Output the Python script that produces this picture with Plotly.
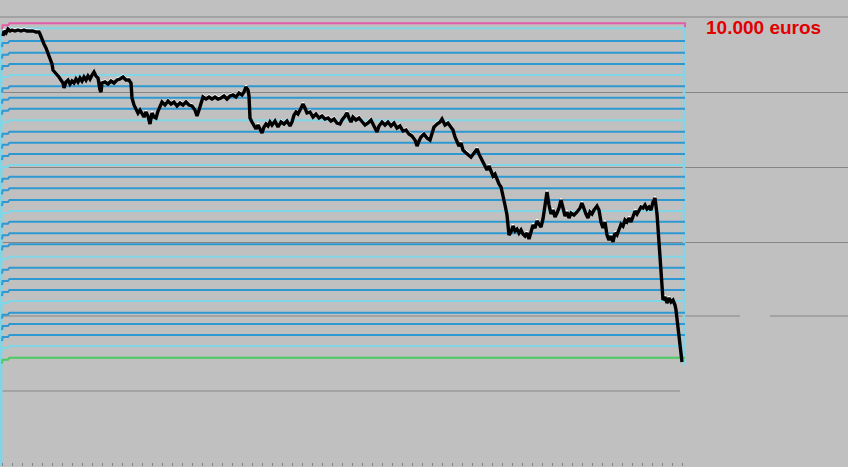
import plotly.graph_objects as go

# ---- data (x = session index, y = account value in chart units) ----
days = [1, 2, 4, 6, 8, 10, 13, 16, 19, 22, 25, 28, 31, 34, 37, 38, 40, 42, 44, 46, 48, 50, 51, 53, 55, 57, 59, 61, 62, 64,
        66, 68, 70, 72, 74, 76, 78, 80, 82, 84, 86, 88, 90, 92, 94, 96, 98, 99, 100, 103, 106, 109, 112, 115, 118, 121, 124, 127, 129, 130,
        132, 134, 136, 138, 140, 142, 144, 146, 148, 150, 152, 154, 156, 158, 160, 163, 166, 169, 172, 175, 178, 181, 184, 187, 190, 193, 195, 197, 199, 201,
        204, 207, 210, 213, 216, 219, 222, 225, 228, 231, 234, 237, 240, 242, 244, 246, 247, 248, 250, 252, 254, 256, 258, 260, 262, 264, 266, 268, 270, 273,
        276, 279, 282, 285, 288, 290, 292, 294, 296, 298, 301, 303, 305, 308, 311, 314, 317, 320, 323, 326, 329, 332, 335, 338, 340, 343, 345, 347, 349, 351,
        354, 357, 360, 363, 366, 369, 372, 375, 377, 380, 383, 386, 389, 392, 395, 398, 401, 404, 407, 410, 413, 415, 417, 419, 422, 425, 428, 430, 432, 435,
        438, 440, 443, 446, 449, 451, 453, 455, 457, 459, 461, 463, 466, 469, 472, 475, 477, 479, 481, 483, 485, 487, 489, 491, 493, 495, 497, 499, 501, 503,
        505, 506, 507, 509, 511, 513, 515, 517, 519, 521, 523, 525, 527, 529, 531, 533, 535, 537, 539, 541, 543, 545, 547, 549, 551, 553, 555, 557, 559, 561,
        563, 565, 567, 569, 572, 575, 578, 580, 582, 584, 586, 588, 590, 592, 595, 597, 599, 601, 603, 605, 607, 609, 611, 613, 615, 617, 619, 621, 623, 625,
        627, 629, 631, 633, 635, 637, 639, 641, 643, 645, 647, 649, 651, 653, 654, 655, 656, 657, 658, 659, 660, 661, 663, 665, 667, 669, 671, 673, 674, 675,
        676, 677, 678, 679, 680]
equity = [430, 435, 433, 437, 435, 436, 435, 436, 435, 436, 435, 435, 435, 434, 434, 432, 426, 422, 418, 413, 409, 402, 396, 394, 392, 389, 386, 383, 378, 384,
          386, 382, 385, 383, 387, 384, 388, 385, 389, 386, 390, 387, 391, 394, 390, 388, 376, 374, 383, 384, 382, 385, 383, 386, 387, 389, 386, 386, 383, 368,
          361, 357, 353, 356, 352, 349, 354, 350, 342, 353, 349, 348, 355, 360, 364, 361, 365, 362, 364, 360, 363, 361, 364, 361, 360, 356, 350, 356, 363, 369,
          367, 369, 367, 369, 367, 368, 370, 367, 370, 371, 369, 373, 371, 374, 379, 376, 370, 348, 344, 340, 337, 341, 337, 333, 339, 342, 340, 344, 341, 345,
          339, 344, 342, 345, 340, 344, 351, 354, 352, 356, 362, 358, 353, 354, 349, 352, 348, 350, 347, 348, 345, 347, 343, 342, 346, 350, 353, 348, 344, 349,
          346, 348, 344, 341, 343, 346, 340, 334, 340, 344, 341, 344, 340, 343, 338, 340, 335, 336, 332, 330, 326, 320, 325, 329, 332, 328, 326, 332, 339, 342,
          344, 347, 341, 343, 339, 336, 329, 325, 320, 323, 316, 314, 312, 309, 313, 317, 312, 308, 303, 299, 296, 300, 294, 290, 292, 286, 282, 279, 271, 261,
          251, 241, 231, 234, 240, 235, 237, 233, 236, 232, 230, 233, 227, 234, 241, 238, 245, 242, 239, 247, 261, 274, 261, 252, 256, 249, 253, 258, 266, 259,
          250, 254, 248, 253, 251, 254, 258, 263, 257, 252, 248, 254, 252, 256, 260, 256, 244, 238, 244, 231, 226, 230, 224, 233, 231, 238, 242, 240, 246, 244,
          248, 244, 250, 255, 252, 256, 259, 258, 261, 257, 259, 256, 264, 268, 261, 252, 238, 221, 206, 191, 178, 166, 169, 163, 168, 164, 166, 161, 156, 148,
          138, 131, 121, 111, 104]

level_values = [442.7, 437.7, 425.0, 413.3, 402.0, 391.0, 379.7, 368.3, 357.3, 345.7, 334.3, 323.3, 312.0, 301.0, 289.3, 277.7,
                266.0, 255.0, 244.3, 232.7, 221.7, 209.3, 198.3, 187.0, 176.0, 165.0, 153.3, 142.0, 131.0, 120.0, 108.3]
level_kinds = ["top", "light", "dark", "dark", "dark", "light", "dark", "dark", "dark", "light", "dark", "dark", "dark", "light",
               "dark", "dark", "dark", "light", "dark", "dark", "dark", "light", "dark", "dark", "dark", "light", "dark", "dark",
               "dark", "light", "bottom"]
label_text = "10.000 euros"

# ---- styles ----
BG = "#C0C0C0"
GRID = "#858585"
COLORS = {"top": "#E25CA8", "light": "#80D6E6", "dark": "#2E98D2", "bottom": "#4ACB5E"}
STEP_DX = [0, 0.6, 6, 7.5, 683]
STEP_DY = [-6, -2, -2, 0, 0]

fig = go.Figure()

# left and right cyan verticals
fig.add_trace(go.Scatter(x=[-1, -1], y=[0, 435], mode="lines",
                         line=dict(color=COLORS["light"], width=3), hoverinfo="skip"))
fig.add_trace(go.Scatter(x=[682, 682], y=[101, 443], mode="lines",
                         line=dict(color=COLORS["light"], width=2.5), hoverinfo="skip"))

# level lines
for v, k in zip(level_values, level_kinds):
    xs = list(STEP_DX)
    ys = [v + d for d in STEP_DY]
    if k == "top":
        xs = xs + [683]
        ys = ys + [v - 4]
    fig.add_trace(go.Scatter(x=xs, y=ys, mode="lines",
                             line=dict(color=COLORS[k], width=2), hoverinfo="skip"))

# equity curve: white highlight underneath, black stroke on top
fig.add_trace(go.Scatter(x=days, y=[e + 1.6 for e in equity], mode="lines",
                         line=dict(color="#FFFFFF", width=2), hoverinfo="skip"))
fig.add_trace(go.Scatter(x=days, y=equity, mode="lines",
                         line=dict(color="#000000", width=3.4), hoverinfo="skip"))

fig.add_annotation(x=761.5, y=438.5, xref="x", yref="y", text="<b>" + label_text + "</b>",
                   showarrow=False, font=dict(family="Liberation Sans, Arial", size=19, color="#E00000"))

# gridlines drawn as shapes (some are partial)
fig.add_shape(type="line", xref="paper", yref="y", x0=0, x1=1, y0=449, y1=449, line=dict(color=GRID, width=1), layer="below")
fig.add_shape(type="line", xref="x", yref="y", x0=-2, x1=678, y0=75, y1=75, line=dict(color=GRID, width=1), layer="below")
fig.add_shape(type="line", xref="x", yref="y", x0=-2, x1=738, y0=150, y1=150, line=dict(color=GRID, width=1), layer="below")
fig.add_shape(type="line", xref="x", yref="y", x0=768, x1=846, y0=150, y1=150, line=dict(color=GRID, width=1), layer="below")

fig.update_layout(
    width=848, height=467,
    margin=dict(l=0, r=0, t=16, b=1),
    paper_bgcolor=BG, plot_bgcolor=BG,
    showlegend=False,
    xaxis=dict(range=[-2, 846], showgrid=False, zeroline=False, showline=False,
               tickmode="array", tickvals=list(range(0, 681, 10)), ticks="inside",
               ticklen=3, tickcolor=GRID, showticklabels=False),
    yaxis=dict(range=[0, 450], showgrid=True, gridcolor=GRID, gridwidth=1, zeroline=False,
               showline=False, tickmode="array", tickvals=[224, 299, 374],
               showticklabels=False, ticks=""),
)

fig.write_html("out.html", config={"displayModeBar": False},
               post_script="document.body.style.margin='0';document.body.style.background='#C0C0C0';")
